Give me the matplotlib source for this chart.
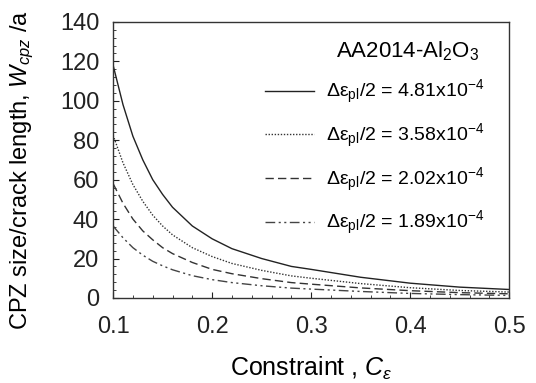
import matplotlib
matplotlib.use("Agg")
import matplotlib.pyplot as plt
from matplotlib.ticker import MultipleLocator

plt.rcParams['font.family'] = ['Liberation Sans', 'DejaVu Sans']
plt.rcParams['mathtext.fontset'] = 'custom'
plt.rcParams['mathtext.rm'] = 'Liberation Sans'
plt.rcParams['mathtext.it'] = 'Liberation Sans:italic'

# values
constraint = [0.10, 0.11, 0.12, 0.13, 0.14, 0.15, 0.16, 0.18, 0.20, 0.22,
              0.25, 0.28, 0.30, 0.35, 0.40, 0.45, 0.50]
w_481 = [118, 98, 82, 70, 60, 52.5, 46, 36.5, 30, 25, 20, 16, 14.5, 10.5, 7.5, 5.5, 4.3]
w_358 = [82.5, 68.5, 57.5, 49, 42, 36.5, 32, 25.5, 21, 17.5, 14, 11.2, 10, 7.3, 5.2, 3.8, 3.0]
w_202 = [58, 48, 40, 34, 29.5, 25.5, 22.5, 18, 14.5, 12.3, 9.8, 7.8, 7, 5.1, 3.7, 2.7, 2.1]
w_189 = [36.5, 30.5, 25.5, 21.7, 18.6, 16.3, 14.3, 11.3, 9.3, 7.8, 6.2, 5, 4.5, 3.3, 2.3, 1.7, 1.3]

labels = [r"Δε$_{\mathrm{pl}}$/2 = 4.81x10$^{-4}$",
          r"Δε$_{\mathrm{pl}}$/2 = 3.58x10$^{-4}$",
          r"Δε$_{\mathrm{pl}}$/2 = 2.02x10$^{-4}$",
          r"Δε$_{\mathrm{pl}}$/2 = 1.89x10$^{-4}$"]

fig = plt.figure(figsize=(5.36, 3.83), dpi=100)
ax = fig.add_axes([0.211, 0.222, 0.739, 0.721])

ax.plot(constraint, w_481, color='#222222', lw=1.0, ls='-', label=labels[0])
ax.plot(constraint, w_358, color='#333333', lw=1.0, ls=(0, (1, 1.2)), label=labels[1])
ax.plot(constraint, w_202, color='#333333', lw=1.0, ls=(0, (6, 3)), label=labels[2])
ax.plot(constraint, w_189, color='#444444', lw=1.0,
        ls=(0, (7, 2.5, 1.5, 2.5, 1.5, 2.5)), label=labels[3])

ax.set_xlim(0.1, 0.5)
ax.set_ylim(0, 140)
ax.xaxis.set_major_locator(MultipleLocator(0.1))
ax.xaxis.set_minor_locator(MultipleLocator(0.02))
ax.yaxis.set_major_locator(MultipleLocator(20))
ax.yaxis.set_minor_locator(MultipleLocator(4))
ax.xaxis.set_major_formatter(plt.FuncFormatter(lambda v, p: f"{v:.1f}"))
ax.tick_params(which='both', direction='in', labelsize=17, colors='#222222')
ax.tick_params(which='major', length=4)
ax.tick_params(which='minor', length=2.5)
ax.tick_params(axis='x', pad=13)
ax.tick_params(axis='y', pad=10)
for s in ax.spines.values():
    s.set_color('#333333')
    s.set_linewidth(1.0)

ax.set_xlabel(r"Constraint , $C_{ε}$", fontsize=18, labelpad=12)
ax.set_ylabel(r"CPZ size/crack length, $W_{cpz}$ /a", fontsize=17)
ax.yaxis.set_label_coords(-0.195, 0.464)

ax.text(0.925, 0.893, r"AA2014-Al$_2$O$_3$", transform=ax.transAxes,
        ha='right', va='center', fontsize=16)
leg = ax.legend(loc='upper right', bbox_to_anchor=(0.97, 0.845), frameon=False,
                fontsize=14, handlelength=2.5, labelspacing=0.8, handletextpad=0.6,
                borderaxespad=0.3)

fig.savefig("out.png", dpi=100)
